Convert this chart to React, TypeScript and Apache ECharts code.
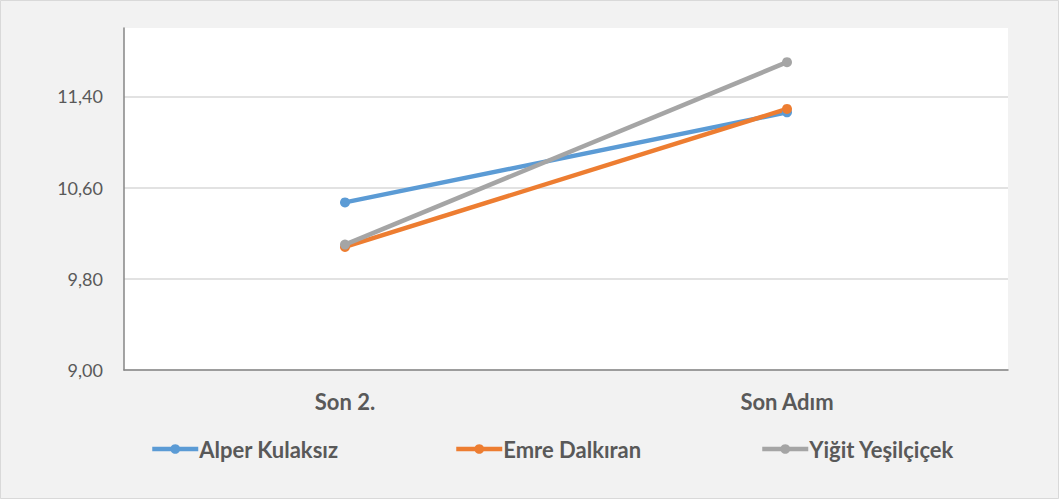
import React, { useEffect, useRef } from "react";
import * as echarts from "echarts";

const categories = ["Son 2.", "Son Adım"];
const seriesNames = ["Alper Kulaksız", "Emre Dalkıran", "Yiğit Yeşilçiçek"];
const alperValues = [10.47, 11.26];
const emreValues = [10.08, 11.29];
const yigitValues = [10.1, 11.7];
const yTicks = [9.0, 9.8, 10.6, 11.4];
const colors = ["#5B9BD5", "#ED7D31", "#A5A5A5"];

const FONT = "Lato, 'Noto Sans', sans-serif";

export default function App() {
  const ref = useRef<HTMLDivElement>(null);
  useEffect(() => {
    if (!ref.current) return;
    const chart = echarts.init(ref.current, null, { renderer: "svg" });
    const values = [alperValues, emreValues, yigitValues];
    const legendLefts = [150, 454, 760];
    chart.setOption({
      animation: false,
      backgroundColor: "#F2F2F2",
      graphic: [
        {
          type: "rect",
          shape: { x: 0.5, y: 0.5, width: 1058, height: 498 },
          style: { fill: "none", stroke: "#D9D9D9", lineWidth: 1 },
          silent: true,
        },
      ],
      grid: {
        left: 124,
        right: 51,
        top: 28,
        bottom: 129,
        show: true,
        backgroundColor: "#FFFFFF",
        borderWidth: 0,
      },
      legend: seriesNames.map((n, i) => ({
        data: [n],
        left: legendLefts[i],
        top: 438,
        itemWidth: 46,
        itemHeight: 12,
        itemGap: 2,
        padding: 0,
        lineStyle: { width: 4.5 },
        textStyle: {
          color: "#595959",
          fontSize: 22,
          fontWeight: "bold",
          fontFamily: FONT,
          padding: [0, 0, 0, -4],
        },
      })),
      xAxis: {
        type: "category",
        data: categories,
        boundaryGap: true,
        axisLine: { show: true, lineStyle: { color: "#868686", width: 1.5 } },
        axisTick: { show: false },
        axisLabel: {
          color: "#595959",
          fontSize: 22,
          fontWeight: "bold",
          fontFamily: FONT,
          margin: 20,
        },
        splitLine: { show: false },
      },
      yAxis: {
        type: "value",
        min: 9,
        max: 12,
        interval: 0.8,
        axisLine: { show: true, lineStyle: { color: "#868686", width: 1.5 } },
        axisTick: { show: false },
        axisLabel: {
          color: "#595959",
          fontSize: 18,
          fontFamily: FONT,
          margin: 21,
          showMaxLabel: false,
          formatter: (v: number) =>
            yTicks.some((t) => Math.abs(t - v) < 1e-6)
              ? v.toFixed(2).replace(".", ",")
              : "",
        },
        splitLine: {
          show: true,
          showMaxLine: false,
          lineStyle: { color: "#D9D9D9", width: 1.5 },
        },
      },
      series: seriesNames.map((n, i) => ({
        name: n,
        type: "line",
        data: values[i],
        symbol: "circle",
        symbolSize: 10,
        color: colors[i],
        lineStyle: { width: 4.5, color: colors[i] },
        itemStyle: { color: colors[i] },
      })),
    });
    return () => chart.dispose();
  }, []);
  return (
    <div
      ref={ref}
      style={{
        position: "absolute",
        left: 0,
        top: 0,
        width: 1059,
        height: 499,
      }}
    />
  );
}
